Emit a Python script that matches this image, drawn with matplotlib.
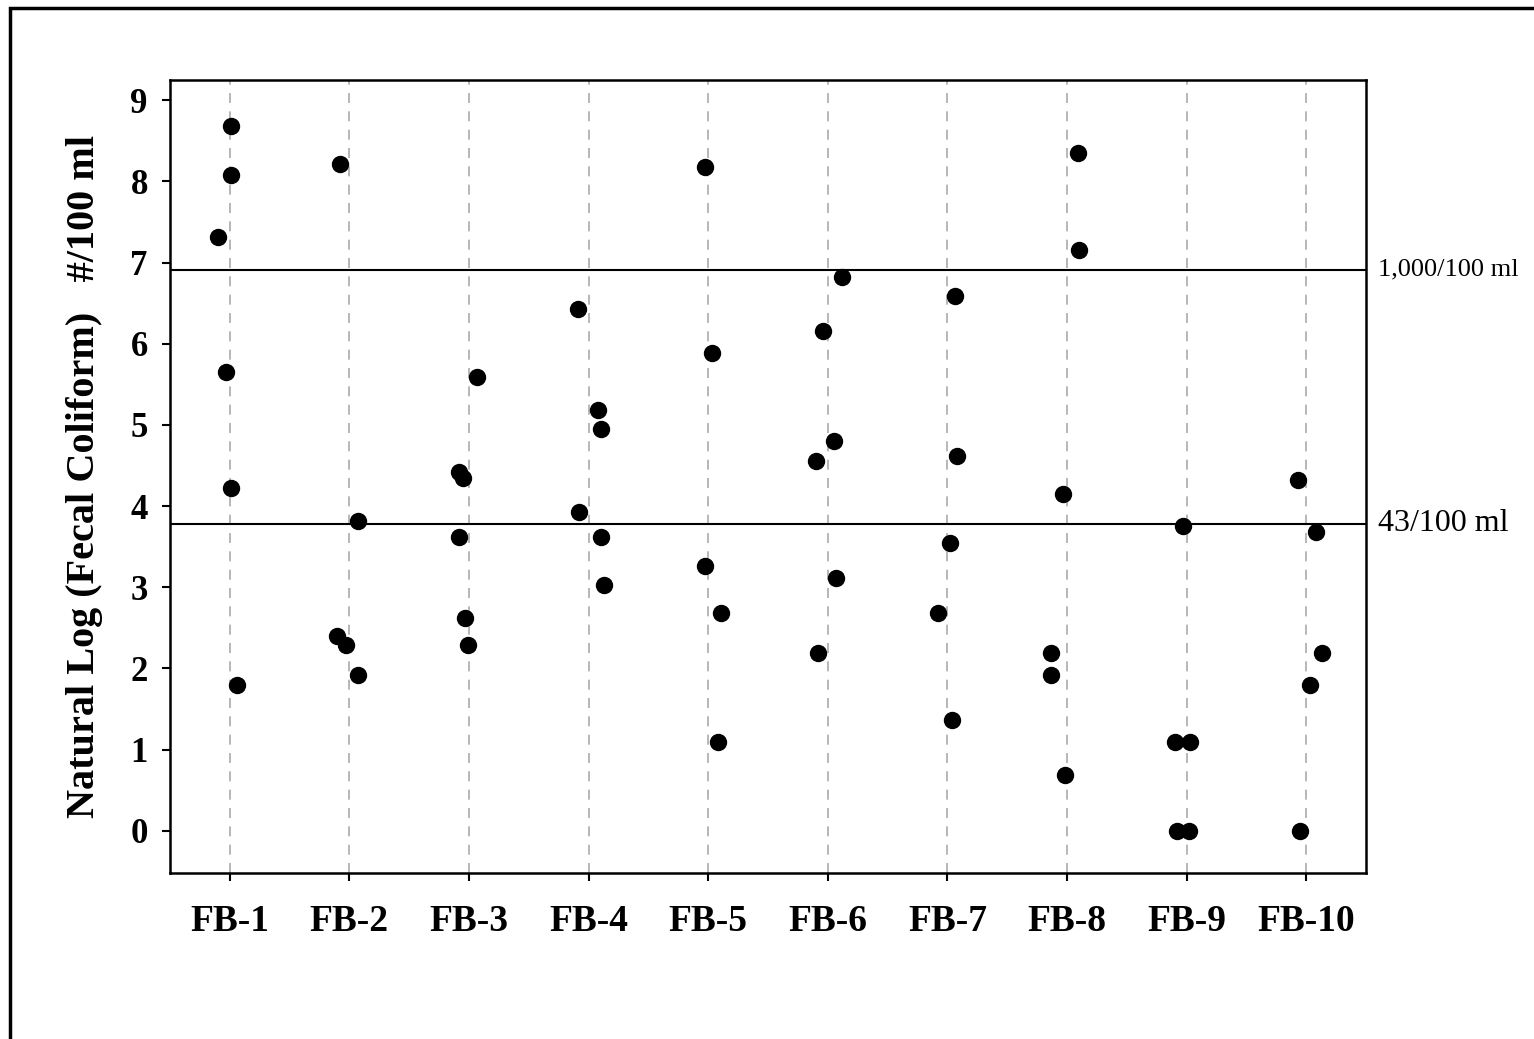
import matplotlib.pyplot as plt
from matplotlib.patches import Rectangle

plt.rcParams['font.family'] = ['Liberation Serif', 'DejaVu Serif']

sites = ['FB-1', 'FB-2', 'FB-3', 'FB-4', 'FB-5', 'FB-6', 'FB-7', 'FB-8', 'FB-9', 'FB-10']

# jitter offset from site centre, and ln(fecal coliform) per sample
fb1_dx = [-0.10, 0.01, 0.01, -0.03, 0.01, 0.06]
fb1_y = [7.31, 8.68, 8.08, 5.65, 4.22, 1.80]
fb2_dx = [-0.08, 0.07, -0.10, -0.03, 0.07]
fb2_y = [8.22, 3.82, 2.40, 2.29, 1.92]
fb3_dx = [0.07, -0.08, -0.05, -0.08, -0.03, -0.01]
fb3_y = [5.59, 4.42, 4.35, 3.62, 2.62, 2.29]
fb4_dx = [-0.09, 0.08, 0.10, -0.08, 0.10, 0.13]
fb4_y = [6.43, 5.18, 4.95, 3.93, 3.62, 3.03]
fb5_dx = [-0.03, 0.03, -0.03, 0.11, 0.08]
fb5_y = [8.18, 5.89, 3.26, 2.68, 1.10]
fb6_dx = [0.12, -0.04, 0.05, -0.10, 0.07, -0.08]
fb6_y = [6.82, 6.16, 4.80, 4.56, 3.12, 2.19]
fb7_dx = [0.06, 0.08, 0.02, -0.08, 0.04]
fb7_y = [6.59, 4.62, 3.55, 2.68, 1.37]
fb8_dx = [0.09, 0.10, -0.03, -0.13, -0.13, -0.02]
fb8_y = [8.35, 7.15, 4.15, 2.19, 1.92, 0.69]
fb9_dx = [-0.03, -0.10, 0.03, -0.08, 0.02]
fb9_y = [3.76, 1.10, 1.10, 0.00, 0.00]
fb10_dx = [-0.07, 0.08, 0.13, 0.03, -0.05]
fb10_y = [4.32, 3.68, 2.19, 1.80, 0.00]

limits = [6.91, 3.78]
limit_labels = ['1,000/100 ml', '43/100 ml']
limit_sizes = [19, 23]

all_dx = [fb1_dx, fb2_dx, fb3_dx, fb4_dx, fb5_dx, fb6_dx, fb7_dx, fb8_dx, fb9_dx, fb10_dx]
all_y = [fb1_y, fb2_y, fb3_y, fb4_y, fb5_y, fb6_y, fb7_y, fb8_y, fb9_y, fb10_y]

fig = plt.figure(figsize=(15.34, 10.39), dpi=100)
fig.patches.append(Rectangle((10 / 1534, -0.05), 1.1, 1 - 8 / 1039 + 0.05,
                             transform=fig.transFigure, fill=False,
                             edgecolor='black', linewidth=2.5))
ax = fig.add_axes([170 / 1534, 1 - 873 / 1039, 1196 / 1534, 793 / 1039])

for i, (dx, yv) in enumerate(zip(all_dx, all_y)):
    xs = [i + 1 + d for d in dx]
    ax.plot(xs, yv, 'o', color='black', markersize=11.5, zorder=3)

for lim, lab, fs in zip(limits, limit_labels, limit_sizes):
    ax.axhline(lim, color='black', linewidth=1.5, zorder=2)
    ax.text(1.01, lim, lab, transform=ax.get_yaxis_transform(),
            ha='left', va='center', fontsize=fs)

ax.set_xlim(0.5, 10.5)
ax.set_ylim(-0.52, 9.25)
ax.set_xticks(range(1, 11))
ax.set_xticklabels(sites, fontsize=27, fontweight='bold')
ax.set_yticks(range(0, 10))
ax.set_yticklabels([str(v) for v in range(0, 10)], fontsize=25, fontweight='bold')
ax.xaxis.grid(True, linestyle=(0, (6, 5)), color='#aaaaaa', linewidth=1.2)
ax.tick_params(axis='both', direction='out', length=6, width=1.5, pad=10)
ax.tick_params(axis='x', pad=16)
for s in ax.spines.values():
    s.set_linewidth(1.8)
ax.set_ylabel('Natural Log (Fecal Coliform)   #/100 ml', fontsize=29,
              fontweight='bold', labelpad=20)

fig.savefig('out.png', dpi=100)
